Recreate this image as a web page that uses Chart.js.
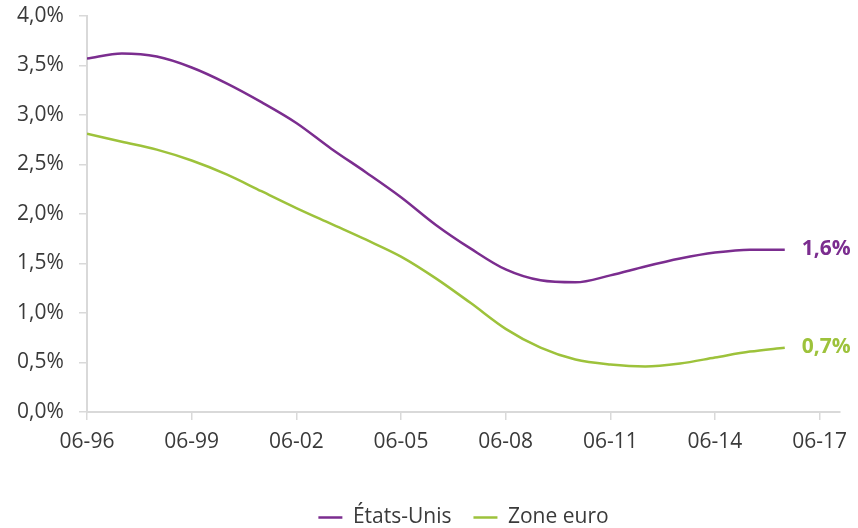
<!DOCTYPE html>
<html lang="fr">
<head>
<meta charset="utf-8">
<title>Taux</title>
<script src="https://cdn.jsdelivr.net/npm/chart.js@4"></script>
<style>
  html, body { margin: 0; padding: 0; background: #fff; }
  #wrap { width: 858px; height: 528px; }
</style>
</head>
<body>
<div id="wrap"><canvas id="chart"></canvas></div>
<script>
// yearly readings, taken each June
const years = [1996, 1997, 1998, 1999, 2000, 2001, 2002, 2003, 2004, 2005, 2006,
               2007, 2008, 2009, 2010, 2011, 2012, 2013, 2014, 2015, 2016];
const usValues = [3.57, 3.62, 3.59, 3.48, 3.32, 3.13, 2.92, 2.66, 2.42, 2.17, 1.89,
                  1.65, 1.44, 1.33, 1.31, 1.38, 1.47, 1.55, 1.61, 1.64, 1.64];
const euroValues = [2.81, 2.73, 2.65, 2.54, 2.40, 2.23, 2.06, 1.90, 1.74, 1.57, 1.35,
                    1.10, 0.84, 0.65, 0.53, 0.48, 0.46, 0.49, 0.55, 0.61, 0.65];
const seriesNames = ['États-Unis', 'Zone euro'];
const tickYears = [1996, 1999, 2002, 2005, 2008, 2011, 2014, 2017];

const PURPLE = '#7b2d8f';
const GREEN = '#9dc23b';
const AXIS = '#d9d9d9';
const TEXT = '#3a3a3a';
const FONT = '"Open Sans", sans-serif';

// months since June 1996
const toMonths = y => (y - 1996) * 12;
const tickMonths = tickYears.map(toMonths);
const pct = v => v.toFixed(1).replace('.', ',') + '%';

const points = vals => vals.map((v, i) => ({ x: toMonths(years[i]), y: v }));

// value printed at the right end of each line
const endLabels = {
  id: 'endLabels',
  afterDatasetsDraw(chart) {
    const ctx = chart.ctx;
    ctx.save();
    ctx.font = 'bold 21px ' + FONT;
    ctx.textBaseline = 'middle';
    chart.data.datasets.forEach((ds, i) => {
      const meta = chart.getDatasetMeta(i);
      const last = meta.data[meta.data.length - 1];
      ctx.fillStyle = ds.borderColor;
      ctx.fillText(pct(ds.data[ds.data.length - 1].y), last.x + 17, last.y - 1);
    });
    ctx.restore();
  }
};

new Chart(document.getElementById('chart'), {
  type: 'line',
  data: {
    datasets: [
      { label: seriesNames[0], data: points(usValues), borderColor: PURPLE, backgroundColor: PURPLE },
      { label: seriesNames[1], data: points(euroValues), borderColor: GREEN, backgroundColor: GREEN }
    ]
  },
  options: {
    responsive: true,
    maintainAspectRatio: false,
    animation: false,
    layout: { padding: { top: 16, right: 18, bottom: -10, left: 17 } },
    elements: {
      line: { borderWidth: 2.5, cubicInterpolationMode: 'monotone' },
      // borderWidth here only sets the stroke of the legend swatches
      point: { radius: 0, hoverRadius: 0, borderWidth: 2.5 }
    },
    scales: {
      x: {
        type: 'linear',
        min: 0,
        max: 259,
        afterBuildTicks: scale => { scale.ticks = tickMonths.map(v => ({ value: v })); },
        afterFit: scale => { scale.height = 73; },
        grid: { drawOnChartArea: false, drawTicks: true, tickLength: 8, color: AXIS, lineWidth: 1.5 },
        border: { color: AXIS, width: 2 },
        ticks: {
          color: TEXT,
          font: { family: FONT, size: 21 },
          padding: 9,
          maxRotation: 0,
          autoSkip: false,
          callback: v => '06-' + String((1996 + v / 12) % 100).padStart(2, '0')
        }
      },
      y: {
        min: 0,
        max: 4,
        afterFit: scale => { scale.width = 70; },
        grid: { drawOnChartArea: false, drawTicks: true, tickLength: 8, color: AXIS, lineWidth: 1.5 },
        border: { color: AXIS, width: 2 },
        ticks: {
          stepSize: 0.5,
          color: TEXT,
          font: { family: FONT, size: 21 },
          padding: 0,
          crossAlign: 'far',
          callback: v => pct(v)
        }
      }
    },
    plugins: {
      legend: {
        position: 'bottom',
        fullSize: false,
        labels: {
          usePointStyle: true,
          pointStyle: 'line',
          pointStyleWidth: 24,
          color: TEXT,
          font: { family: FONT, size: 21 },
          padding: 22,
          boxHeight: 21
        }
      },
      tooltip: { enabled: false }
    }
  },
  plugins: [endLabels]
});
</script>
</body>
</html>
